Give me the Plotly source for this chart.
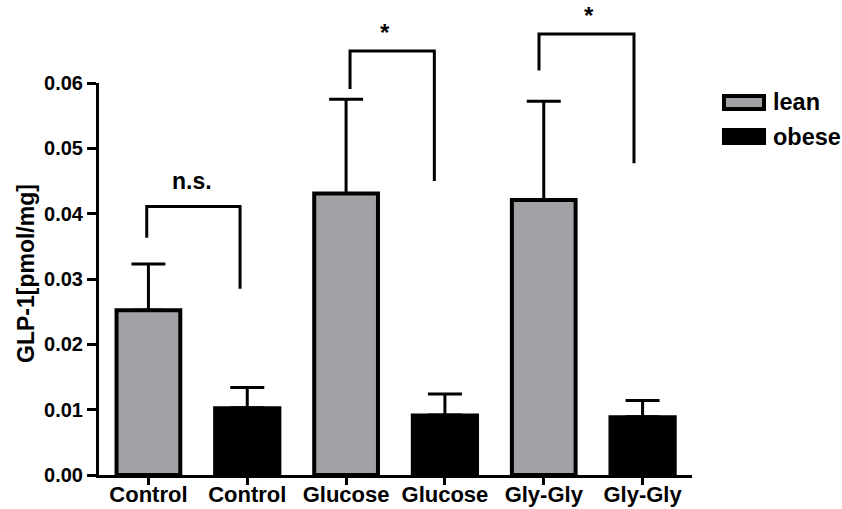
import plotly.graph_objects as go

# ---- data ----
categories = ["Control", "Control", "Glucose", "Glucose", "Gly-Gly", "Gly-Gly"]
lean_pos = [0, 2, 4]
obese_pos = [1, 3, 5]
lean = [0.0252, 0.0431, 0.0421]
lean_err = [0.0071, 0.0144, 0.0151]
obese = [0.0103, 0.0092, 0.0089]
obese_err = [0.0031, 0.0032, 0.0025]
y_ticks = [0.00, 0.01, 0.02, 0.03, 0.04, 0.05, 0.06]
y_ticktext = ["0.00", "0.01", "0.02", "0.03", "0.04", "0.05", "0.06"]

# significance brackets (x in category units, y in data units)
br_left_x = [-0.017, 2.04, 3.952]
br_right_x = [0.927, 2.893, 4.913]
br_top = [0.0411, 0.0649, 0.0675]
br_left_bottom = [0.0363, 0.0591, 0.0619]
br_right_bottom = [0.0285, 0.0450, 0.0477]
br_label = ["n.s.", "*", "*"]
br_label_x = [0.44, 2.394, 4.458]

GRAY = "#a2a1a6"
FONT = "Liberation Sans, Arial, sans-serif"
YMAX = 0.06
W, H = 842, 509
ML, MR, MT, MB = 99, 150, 83, 34
PW = W - ML - MR
PH = H - MT - MB

fig = go.Figure()
fig.add_trace(go.Bar(
    x=lean_pos, y=lean, width=0.645, name="lean",
    marker=dict(color=GRAY, line=dict(color="black", width=4)),
    error_y=dict(type="data", array=lean_err, arrayminus=[0] * len(lean),
                 symmetric=False, color="black", thickness=3, width=17),
    showlegend=False,
))
fig.add_trace(go.Bar(
    x=obese_pos, y=obese, width=0.66, name="obese",
    marker=dict(color="black", line=dict(color="black", width=3)),
    error_y=dict(type="data", array=obese_err, arrayminus=[0] * len(obese),
                 symmetric=False, color="black", thickness=3, width=17),
    showlegend=False,
))

def px(xc):
    return (xc + 0.5) / 6.0

def py(yv):
    return yv / YMAX

shapes = []
annotations = []
for i in range(len(br_label)):
    xl, xr = px(br_left_x[i]), px(br_right_x[i])
    yt = py(br_top[i])
    path = (f"M {xl},{py(br_left_bottom[i])} L {xl},{yt} "
            f"L {xr},{yt} L {xr},{py(br_right_bottom[i])}")
    shapes.append(dict(type="path", xref="paper", yref="paper", path=path,
                       line=dict(color="black", width=3)))
    if br_label[i] == "*":
        annotations.append(dict(xref="paper", yref="paper", x=px(br_label_x[i]),
                                y=yt + 3 / PH, text=br_label[i], showarrow=False,
                                xanchor="center", yanchor="bottom",
                                font=dict(family=FONT, size=24, color="black", weight="bold")))
    else:
        annotations.append(dict(xref="paper", yref="paper", x=px(br_label_x[i]),
                                y=yt + 10 / PH, text=br_label[i], showarrow=False,
                                xanchor="center", yanchor="bottom",
                                font=dict(family=FONT, size=23, color="black", weight="bold")))

# legend drawn manually
def pxx(p):
    return (p - ML) / PW

def pyy(p):
    return (H - MB - p) / PH

shapes.append(dict(type="rect", xref="paper", yref="paper",
                   x0=pxx(724), x1=pxx(764), y0=pyy(109), y1=pyy(96),
                   fillcolor=GRAY, line=dict(color="black", width=4)))
shapes.append(dict(type="rect", xref="paper", yref="paper",
                   x0=pxx(722), x1=pxx(766), y0=pyy(145), y1=pyy(128),
                   fillcolor="black", line=dict(color="black", width=0)))
for name, yc in [("lean", 102), ("obese", 137)]:
    annotations.append(dict(xref="paper", yref="paper", x=pxx(771), y=pyy(yc),
                            text=name, showarrow=False, xanchor="left", yanchor="middle",
                            font=dict(family=FONT, size=23.5, color="black", weight="bold")))

# y-axis title
annotations.append(dict(xref="paper", yref="paper", x=pxx(26), y=pyy(274),
                        text="GLP-1[pmol/mg]", textangle=-90, showarrow=False,
                        xanchor="center", yanchor="middle",
                        font=dict(family=FONT, size=23, color="black", weight="bold")))

fig.update_layout(
    width=W, height=H,
    margin=dict(l=ML, r=MR, t=MT, b=MB, pad=0, autoexpand=False),
    paper_bgcolor="white", plot_bgcolor="white",
    barmode="overlay",
    showlegend=False,
    shapes=shapes,
    annotations=annotations,
    xaxis=dict(range=[-0.5, 5.5], tickvals=list(range(len(categories))),
               ticktext=categories, showgrid=False, zeroline=False, automargin=False,
               showline=True, linecolor="black", linewidth=3,
               ticks="outside", ticklen=7, tickwidth=3, tickcolor="black",
               ticklabelstandoff=-9,
               tickfont=dict(family=FONT, size=22, color="black", weight="bold")),
    yaxis=dict(range=[0, YMAX], tickvals=y_ticks, ticktext=y_ticktext,
               showgrid=False, zeroline=False, automargin=False,
               showline=True, linecolor="black", linewidth=3,
               ticks="outside", ticklen=9, tickwidth=3, tickcolor="black",
               tickfont=dict(family=FONT, size=20, color="black", weight="bold")),
)

fig.write_html("out.html")
